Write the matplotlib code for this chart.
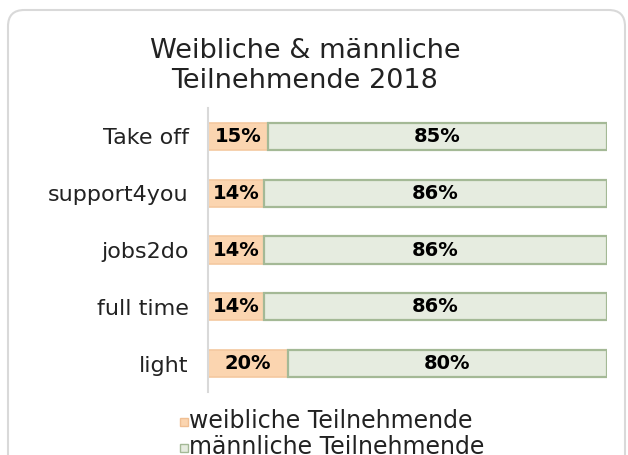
import matplotlib.pyplot as plt
from matplotlib.patches import FancyBboxPatch, Rectangle

plt.rcParams['font.family'] = ['DejaVu Sans']

categories = ["Take off", "support4you", "jobs2do", "full time", "light"]
female = [15, 14, 14, 14, 20]
male = [85, 86, 86, 86, 80]
series_names = ["weibliche Teilnehmende", "männliche Teilnehmende"]

fig = plt.figure(figsize=(6.28, 4.55), dpi=100)

# rounded frame round the chart
frame = FancyBboxPatch((8 / 628, -0.1), (625 - 8) / 628, 1.0 - 10 / 455 + 0.1,
                       boxstyle="round,pad=0,rounding_size=0.026",
                       mutation_aspect=628 / 455,
                       transform=fig.transFigure, facecolor='none',
                       edgecolor='#d9d9d9', linewidth=1.5, zorder=0)
fig.patches.append(frame)

ax = fig.add_axes([208 / 628, 1 - 392 / 455, (607 - 208) / 628, (392 - 108) / 455])
ax.set_facecolor('none')

y = list(range(len(categories)))
h = 0.48
ax.barh(y, female, height=h, color='#fbd5b0', edgecolor='#f4c8a0', linewidth=1.2)
ax.barh(y, male, left=female, height=h, color='#e6ece0', edgecolor='#a4b996', linewidth=1.6)

for i in y:
    ax.text(female[i] / 2, i, f"{female[i]}%", ha='center', va='center',
            fontsize=14, fontweight='bold', color='black')
    ax.text(female[i] + male[i] / 2, i, f"{male[i]}%", ha='center', va='center',
            fontsize=14, fontweight='bold', color='black')

ax.set_xlim(0, 100)
ax.set_ylim(len(categories) - 0.5, -0.5)
ax.set_yticks(y)
ax.set_yticklabels(categories, fontsize=16, color='#222222')
ax.tick_params(axis='y', length=0, pad=14)
ax.set_xticks([])
for s in ['top', 'right', 'bottom']:
    ax.spines[s].set_visible(False)
ax.spines['left'].set_color('#d9d9d9')
ax.spines['left'].set_linewidth(1.5)

fig.text(305 / 628, 1 - 66 / 455, "Weibliche & männliche\nTeilnehmende 2018",
         ha='center', va='center', fontsize=19.5, linespacing=1.25, color='#222222')

# legend (second row is cut by the lower edge, as in the original)
for k, (name, fc, ec) in enumerate([(series_names[0], '#fbd5b0', '#f0bf93'),
                                    (series_names[1], '#e6ece0', '#a4b996')]):
    yy = 1 - (421 + 26 * k) / 455
    fig.patches.append(Rectangle((180 / 628, yy - 4.5 / 455), 8 / 628, 8 / 455,
                                 transform=fig.transFigure, facecolor=fc,
                                 edgecolor=ec, linewidth=1))
    fig.text(189 / 628, yy, name, ha='left', va='center', fontsize=17, color='#222222')

fig.savefig('out.png', dpi=100)
